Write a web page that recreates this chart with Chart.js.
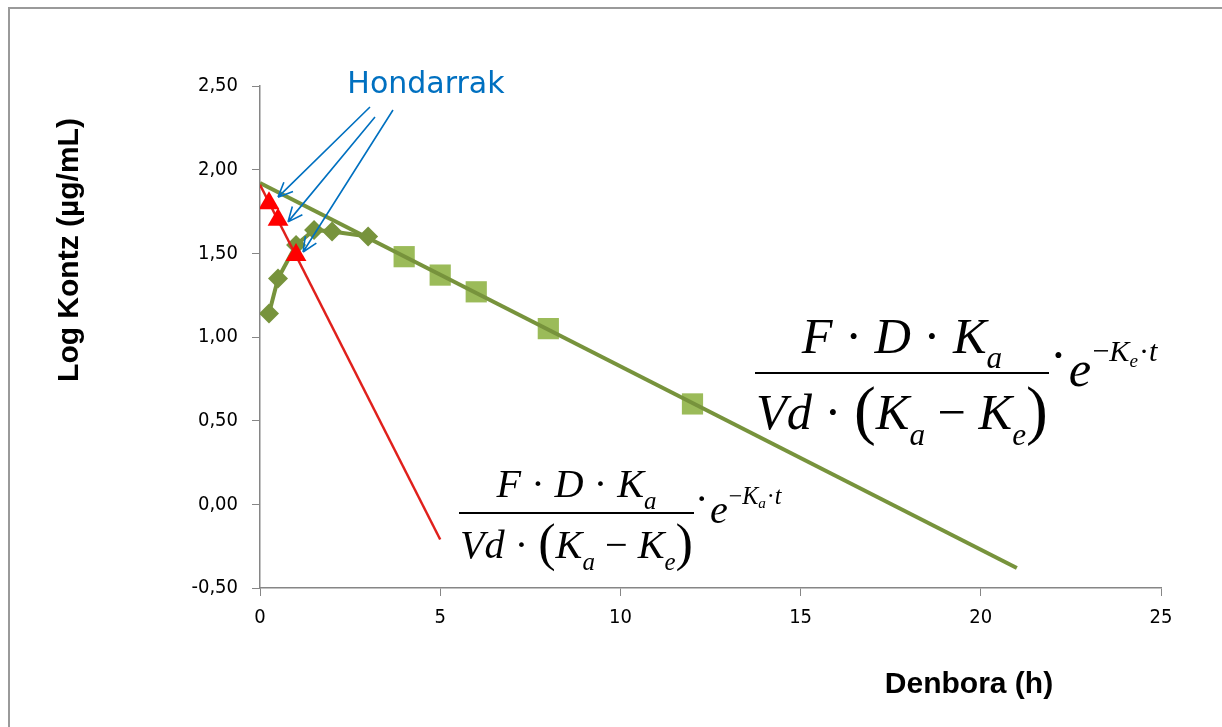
<!DOCTYPE html>
<html>
<head>
<meta charset="utf-8">
<script src="https://cdn.jsdelivr.net/npm/chart.js@4.4.0/dist/chart.umd.min.js"></script>
<style>
    html, body { margin: 0; padding: 0; background: #fff; }
    #wrap { width: 1222px; height: 727px; }
</style>
</head>
<body>
<div id="wrap"><canvas id="chart" width="1222" height="727"></canvas></div>
<script>
// observed points, absorption part (diamonds)
const earlyTime = [0.25, 0.5, 1, 1.5, 2, 3];
const earlyLog = [1.14, 1.35, 1.55, 1.64, 1.63, 1.60];

// observed points, elimination part (squares)
const lateTime = [4, 5, 6, 8, 12];
const lateLog = [1.48, 1.37, 1.27, 1.05, 0.60];

// residuals ("hondarrak")
const residTime = [0.25, 0.5, 1];
const residLog = [1.80, 1.70, 1.49];

// back-extrapolated elimination line and residual line
const elimTime = [0, 21];
const elimLog = [1.92, -0.38];
const absTime = [0, 5];
const absLog = [1.91, -0.21];

const xTicks = [0, 5, 10, 15, 20, 25];
const yTicks = [-0.5, 0, 0.5, 1, 1.5, 2, 2.5];

const xTitle = "Denbora (h)";
const yTitle = "Log Kontz (µg/mL)";
const arrowLabel = "Hondarrak";

const OLIVE = "#77933C";
const OLIVE_LIGHT = "#9BBB59";
const RED = "#FF0000";
const BLUE = "#0070C0";
const AXIS = "#868686";

function pts(xs, ys) {
    return xs.map((x, i) => ({ x: x, y: ys[i] }));
}

const serif = '"Liberation Serif", "Times New Roman", serif';

// draw a run of formula pieces left to right, returns its width
function drawRun(ctx, run, x, y, size, draw) {
    let cx = x;
    run.forEach(p => {
        const s = size * (p.s || 1);
        ctx.font = (p.i ? "italic " : "") + s + "px " + serif;
        if (draw) ctx.fillText(p.t, cx, y + (p.dy || 0) * size);
        cx += ctx.measureText(p.t).width + (p.gap || 0) * size;
    });
    return cx - x;
}

function formulaPieces(sub) {
    const num = [
        { t: "F", i: 1 }, { t: " · " }, { t: "D", i: 1 }, { t: " · " },
        { t: "K", i: 1 }, { t: "a", i: 1, s: 0.62, dy: 0.3 }
    ];
    const den = [
        { t: "Vd", i: 1 }, { t: " · " }, { t: "(", s: 1.3, dy: 0.06 },
        { t: "K", i: 1 }, { t: "a", i: 1, s: 0.62, dy: 0.3 }, { t: " − " },
        { t: "K", i: 1 }, { t: "e", i: 1, s: 0.62, dy: 0.3 }, { t: ")", s: 1.3, dy: 0.06 }
    ];
    const tail = [
        { t: "·", dy: -0.02, gap: 0.04 }, { t: "e", i: 1, dy: 0.25, gap: 0.02 },
        { t: "−", s: 0.6, dy: -0.23 }, { t: "K", i: 1, s: 0.6, dy: -0.23 },
        { t: sub, i: 1, s: 0.38, dy: -0.12, gap: 0.02 }, { t: "·", s: 0.6, dy: -0.23 },
        { t: "t", i: 1, s: 0.6, dy: -0.23 }
    ];
    return { num, den, tail };
}

const formulas = [
    { left: 756, right: 1048, barY: 373, sub: "e", numDy: -0.40, denDy: 1.12 },
    { left: 460, right: 693, barY: 513, sub: "a", numDy: -0.40, denDy: 1.12 }
];

const formulaPlugin = {
    id: "formulas",
    beforeDraw(chart) {
        const ctx = chart.ctx;
        ctx.save();
        ctx.fillStyle = "#fff";
        ctx.fillRect(0, 0, chart.width, chart.height);
        ctx.strokeStyle = "#9a9a9a";
        ctx.lineWidth = 2;
        ctx.strokeRect(9, 8, chart.width + 20, chart.height + 20);
        ctx.restore();
    },
    afterDraw(chart) {
        const ctx = chart.ctx;
        ctx.save();
        ctx.fillStyle = "#000";
        ctx.textBaseline = "alphabetic";
        formulas.forEach(f => {
            const p = formulaPieces(f.sub);
            const w100 = drawRun(ctx, p.den, 0, 0, 100, false);
            const size = (f.right - f.left) / w100 * 100;
            drawRun(ctx, p.den, f.left, f.barY + f.denDy * size, size, true);
            const wn = drawRun(ctx, p.num, 0, 0, size, false);
            drawRun(ctx, p.num, (f.left + f.right) / 2 - wn / 2, f.barY + f.numDy * size, size, true);
            ctx.fillRect(f.left - 1, f.barY - 1, f.right - f.left + 2, 2);
            drawRun(ctx, p.tail, f.right + 2, f.barY, size, true);
        });

        // axis titles
        ctx.font = "bold 30px 'Liberation Sans', Arial, sans-serif";
        ctx.textAlign = "center";
        ctx.fillText(xTitle, 969, 693);
        ctx.save();
        ctx.translate(78, 250);
        ctx.rotate(-Math.PI / 2);
        ctx.fillText(yTitle, 0, 0);
        ctx.restore();

        // residual label with arrows
        ctx.fillStyle = BLUE;
        ctx.font = "30px 'DejaVu Sans', Verdana, sans-serif";
        ctx.fillText(arrowLabel, 426, 93);

        const xs = chart.scales.x, ys = chart.scales.y;
        const arrows = [
            { from: [370, 107], to: 0, off: [9, -6] },
            { from: [375, 117], to: 1, off: [10, 2] },
            { from: [393, 110], to: 2, off: [7, -3] }
        ];
        ctx.strokeStyle = BLUE;
        ctx.lineWidth = 1.6;
        arrows.forEach(a => {
            const tx = xs.getPixelForValue(residTime[a.to]) + a.off[0];
            const ty = ys.getPixelForValue(residLog[a.to]) + a.off[1];
            const ang = Math.atan2(ty - a.from[1], tx - a.from[0]);
            ctx.beginPath();
            ctx.moveTo(a.from[0], a.from[1]);
            ctx.lineTo(tx, ty);
            for (const d of [-0.42, 0.42]) {
                ctx.moveTo(tx, ty);
                ctx.lineTo(tx - 16 * Math.cos(ang + d), ty - 16 * Math.sin(ang + d));
            }
            ctx.stroke();
        });
        ctx.restore();
    }
};

const tickFont = { family: "'DejaVu Sans Condensed', 'DejaVu Sans', sans-serif", size: 20 };

new Chart(document.getElementById("chart"), {
    type: "scatter",
    data: {
        datasets: [
            {
                data: pts(lateTime, lateLog),
                pointStyle: "rect", pointRadius: 15, pointHoverRadius: 15,
                backgroundColor: OLIVE_LIGHT, borderWidth: 0,
                showLine: false, order: 5
            },
            {
                data: pts(earlyTime, earlyLog),
                pointStyle: "rectRot", pointRadius: 10, pointHoverRadius: 10,
                backgroundColor: OLIVE, borderColor: OLIVE,
                borderWidth: 4, pointBorderWidth: 0,
                showLine: true, order: 4
            },
            {
                data: pts(elimTime, elimLog),
                pointRadius: 0, borderColor: OLIVE, borderWidth: 4,
                showLine: true, order: 3
            },
            {
                data: pts(absTime, absLog),
                pointRadius: 0, borderColor: "#E0201C", borderWidth: 2.5,
                showLine: true, order: 2
            },
            {
                data: pts(residTime, residLog),
                pointStyle: "triangle", pointRadius: 12, pointHoverRadius: 12,
                backgroundColor: RED, borderWidth: 0,
                showLine: false, order: 1
            }
        ]
    },
    options: {
        responsive: false,
        animation: false,
        layout: { padding: { left: 0, top: 86, right: 61, bottom: 0 } },
        elements: { line: { tension: 0 } },
        plugins: { legend: { display: false }, tooltip: { enabled: false } },
        scales: {
            x: {
                type: "linear", min: 0, max: 25,
                afterBuildTicks: s => { s.ticks = xTicks.map(v => ({ value: v })); },
                afterFit: s => { s.height = 139; },
                ticks: { color: "#000", font: tickFont, padding: 10 },
                grid: { drawOnChartArea: false, tickLength: 8, color: AXIS },
                border: { color: AXIS, width: 1.5 }
            },
            y: {
                min: -0.5, max: 2.5,
                afterBuildTicks: s => { s.ticks = yTicks.map(v => ({ value: v })); },
                afterFit: s => { s.width = 260; },
                ticks: {
                    color: "#000", font: tickFont, padding: 14,
                    callback: v => v.toFixed(2).replace(".", ",")
                },
                grid: { drawOnChartArea: false, tickLength: 8, color: AXIS },
                border: { color: AXIS, width: 1.5 }
            }
        }
    },
    plugins: [formulaPlugin]
});
</script>
</body>
</html>
